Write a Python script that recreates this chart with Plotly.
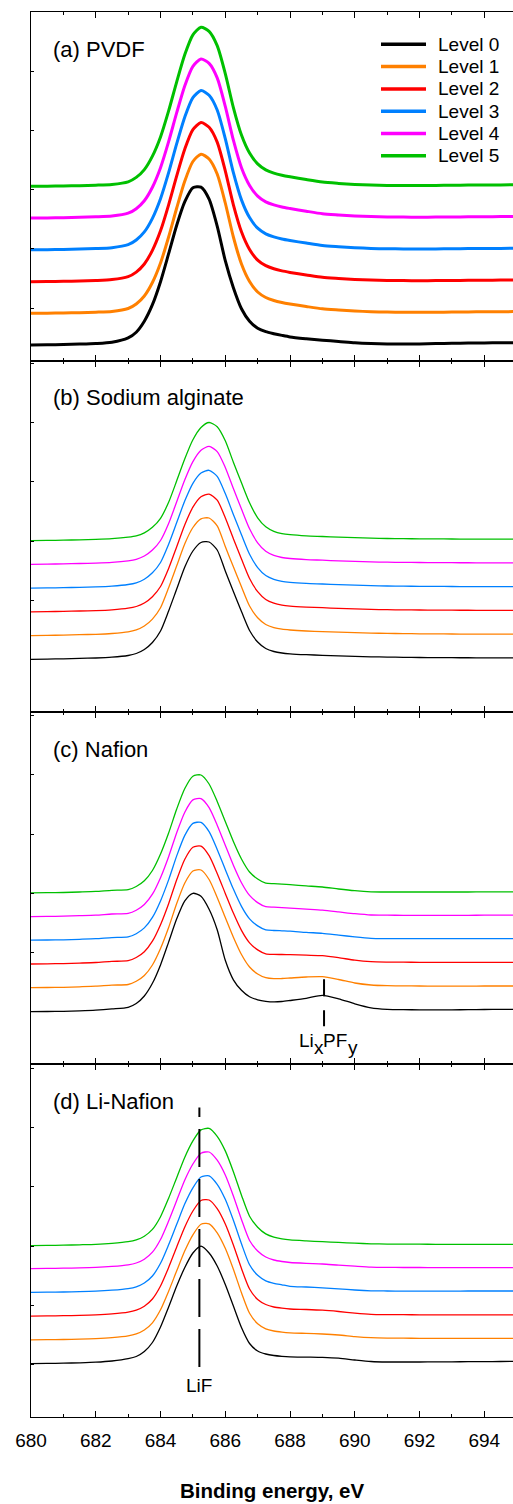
import plotly.graph_objects as go

# Binding-energy grid shared by every spectrum (eV): 0.25 eV steps across the F 1s peak
energy = [680, 680.5, 681, 681.5, 682, 682.5,
          683, 683.25, 683.5, 683.75, 684, 684.25, 684.5, 684.75, 685, 685.25, 685.5,
          685.75, 686, 686.25, 686.5, 686.75, 687, 687.25, 687.5, 687.75, 688,
          688.5, 689, 689.5, 690, 690.5, 691, 691.5, 692, 692.5, 693, 693.5, 694, 694.5, 695]

level_names = ["Level 0", "Level 1", "Level 2", "Level 3", "Level 4", "Level 5"]
level_colors = ["#000000", "#FF8000", "#FF0000", "#0080FF", "#FF00FF", "#00C000"]

# (a) PVDF, F 1s intensity (a.u.)
pvdf_l0 = [15.7, 15.9, 16.2, 16.6, 17.2, 18.5,
           22.8, 28.5, 39.5, 56.0, 79.0, 107.0, 135.5, 159.0, 173.0, 173.5, 161.5,
           134.5, 100.0, 73.0, 52.0, 39.5, 32.5, 29.0, 27.0, 25.3, 23.8,
           22.0, 20.5, 19.3, 18.0, 17.2, 16.7, 16.6, 16.8, 17.1, 17.4, 17.6, 17.8, 17.9, 18.0]
pvdf_l1 = [15.7, 15.8, 16.0, 16.3, 16.8, 17.6,
           20.5, 25.0, 33.0, 46.5, 66.0, 92.0, 121.0, 148.0, 167.5, 174.8, 170.0,
           155.0, 126.0, 92.0, 65.0, 47.5, 37.0, 31.5, 28.5, 26.5, 25.0,
           22.5, 20.2, 19.0, 18.0, 17.3, 16.9, 16.7, 16.7, 16.8, 16.9, 17.1, 17.2, 17.3, 17.4]
pvdf_l2 = [15.6, 15.8, 16.0, 16.3, 16.8, 17.7,
           20.6, 25.2, 33.3, 47.0, 66.5, 92.5, 121.5, 148.3, 167.6, 174.7, 170.0,
           155.2, 126.5, 92.5, 65.5, 47.8, 37.2, 31.6, 28.5, 26.4, 24.9,
           22.4, 20.0, 18.8, 17.8, 17.2, 16.8, 16.7, 16.6, 16.7, 16.8, 17.0, 17.1, 17.2, 17.3]
pvdf_l3 = [15.7, 15.8, 16.0, 16.4, 16.9, 17.8,
           20.8, 25.5, 33.6, 47.2, 66.8, 92.8, 121.8, 148.5, 167.8, 174.9, 170.2,
           155.5, 126.8, 92.8, 65.6, 47.9, 37.3, 31.7, 28.6, 26.5, 25.0,
           22.4, 20.0, 18.8, 17.8, 17.1, 16.7, 16.6, 16.5, 16.6, 16.7, 16.9, 17.0, 17.1, 17.2]
pvdf_l4 = [15.7, 15.8, 16.0, 16.4, 16.9, 17.7,
           20.5, 25.0, 33.0, 46.5, 66.0, 92.0, 121.0, 148.0, 167.4, 174.7, 170.3,
           155.8, 127.3, 93.5, 66.0, 48.3, 37.6, 31.9, 28.8, 26.7, 25.2,
           22.5, 20.0, 18.8, 17.8, 17.1, 16.7, 16.6, 16.5, 16.6, 16.7, 16.9, 17.0, 17.1, 17.2]
pvdf_l5 = [15.8, 15.9, 16.1, 16.4, 16.9, 17.7,
           20.3, 24.7, 32.5, 46.0, 65.2, 91.2, 120.3, 147.5, 167.2, 174.8, 170.8,
           156.5, 128.5, 94.5, 67.0, 49.0, 38.2, 32.2, 29.0, 26.9, 25.3,
           22.5, 20.0, 18.7, 17.7, 17.1, 16.7, 16.6, 16.6, 16.7, 16.8, 17.0, 17.1, 17.2, 17.3]
pvdf_offsets = [0, 31.7, 63.4, 95.2, 127.0, 158.6]

# (b) Sodium alginate
alg_l0 = [52.7, 52.9, 53.2, 53.6, 54.0, 54.8,
          56.5, 58.5, 62.5, 69.5, 81.0, 101.0, 123.0, 145.0, 161.0, 169.5, 170.0,
          162.0, 141.0, 120.5, 100.5, 81.5, 70.0, 63.5, 60.5, 59.0, 58.2,
          57.3, 56.7, 56.1, 55.6, 55.2, 54.9, 54.7, 54.5, 54.4, 54.3, 54.25, 54.2, 54.2, 54.2]
alg_l1 = [52.7, 52.9, 53.2, 53.6, 54.0, 54.8,
          56.4, 58.4, 62.3, 69.2, 80.5, 100.5, 122.5, 144.6, 160.8, 169.5, 170.3,
          162.5, 141.8, 121.5, 101.5, 82.3, 70.5, 63.8, 60.7, 59.1, 58.3,
          57.3, 56.7, 56.1, 55.6, 55.2, 54.9, 54.7, 54.5, 54.4, 54.3, 54.25, 54.2, 54.2, 54.2]
alg_l2 = [52.7, 52.9, 53.1, 53.5, 53.9, 54.7,
          56.3, 58.0, 61.5, 67.8, 78.0, 96.0, 117.8, 139.8, 157.3, 167.7, 170.4,
          164.3, 146.8, 125.8, 105.5, 86.0, 72.8, 65.0, 61.3, 59.4, 58.4,
          57.4, 56.8, 56.1, 55.6, 55.1, 54.8, 54.6, 54.5, 54.4, 54.3, 54.25, 54.2, 54.2, 54.2]
alg_l3 = [52.7, 52.9, 53.1, 53.5, 53.9, 54.7,
          56.3, 58.0, 61.6, 68.0, 78.3, 96.5, 118.2, 140.0, 157.5, 167.8, 170.5,
          164.5, 147.2, 126.3, 106.0, 86.5, 73.2, 65.3, 61.5, 59.5, 58.5,
          57.4, 56.8, 56.1, 55.6, 55.1, 54.8, 54.6, 54.5, 54.4, 54.3, 54.25, 54.2, 54.2, 54.2]
alg_l4 = [52.7, 52.9, 53.1, 53.5, 53.9, 54.6,
          56.2, 57.7, 61.0, 67.0, 76.5, 93.5, 115.2, 137.2, 155.4, 166.8, 170.6,
          165.4, 149.6, 128.4, 108.0, 88.2, 74.2, 65.7, 61.6, 59.5, 58.5,
          57.4, 56.8, 56.1, 55.6, 55.1, 54.8, 54.6, 54.5, 54.4, 54.3, 54.25, 54.2, 54.2, 54.2]
alg_l5 = [52.7, 52.9, 53.1, 53.5, 53.9, 54.6,
          56.1, 57.4, 60.5, 66.0, 75.0, 91.0, 112.5, 134.5, 153.5, 165.8, 170.8,
          166.5, 152.5, 131.0, 110.5, 90.5, 75.5, 66.5, 62.0, 59.7, 58.6,
          57.4, 56.8, 56.1, 55.6, 55.1, 54.8, 54.6, 54.5, 54.4, 54.3, 54.25, 54.2, 54.2, 54.2]
alg_offsets = [0, 23.7, 47.5, 71.2, 95.0, 118.7]

# (c) Nafion
naf_l0 = [52.6, 52.8, 53.0, 53.5, 54.2, 55.4,
          57.0, 60.8, 68.3, 81.0, 99.4, 122.2, 145.5, 163.5, 171.0, 168.0, 155.0,
          134.5, 104.0, 84.5, 74.0, 67.5, 64.5, 63.0, 62.4, 62.8, 63.8,
          66.0, 69.0, 65.5, 60.5, 56.5, 55.0, 54.6, 54.5, 54.5, 54.5, 54.6, 54.8, 54.9, 55.0]
naf_l1 = [52.8, 53.0, 53.2, 53.7, 54.3, 55.4,
          56.0, 59.2, 65.0, 75.5, 92.0, 113.0, 137.0, 157.5, 169.5, 170.5, 161.0,
          143.0, 123.0, 103.3, 86.0, 73.5, 66.5, 62.8, 61.8, 62.0, 62.5,
          63.5, 63.8, 61.0, 57.5, 55.5, 54.8, 54.6, 54.5, 54.4, 54.4, 54.4, 54.5, 54.5, 54.5]
naf_l2 = [52.7, 52.9, 53.1, 53.6, 54.2, 55.3,
          56.0, 59.2, 65.0, 75.5, 92.0, 113.0, 137.0, 157.5, 169.5, 170.5, 161.0,
          143.2, 123.3, 103.6, 86.3, 73.8, 66.8, 62.8, 62.3, 62.2, 62.0,
          61.5, 61.0, 59.0, 56.5, 55.0, 54.6, 54.5, 54.4, 54.3, 54.3, 54.3, 54.4, 54.4, 54.4]
naf_l3 = [52.7, 52.9, 53.1, 53.6, 54.2, 55.3,
          56.0, 59.2, 65.0, 75.5, 92.0, 113.0, 137.0, 157.5, 169.5, 170.5, 161.3,
          143.5, 123.5, 103.8, 86.5, 74.0, 67.0, 63.0, 62.4, 62.1, 61.8,
          60.5, 59.6, 57.8, 56.0, 54.6, 54.3, 54.2, 54.2, 54.2, 54.2, 54.2, 54.3, 54.3, 54.3]
naf_l4 = [52.6, 52.8, 53.0, 53.5, 54.1, 55.2,
          55.9, 59.0, 64.7, 75.0, 91.5, 112.5, 136.5, 157.0, 169.3, 170.5, 161.5,
          144.0, 124.0, 104.0, 86.5, 73.8, 66.6, 62.5, 62.0, 61.5, 61.0,
          60.0, 59.0, 57.3, 55.5, 54.2, 54.0, 53.9, 53.9, 53.9, 53.9, 53.9, 54.0, 54.0, 54.0]
naf_l5 = [52.6, 52.8, 53.0, 53.5, 54.1, 55.2,
          55.9, 59.0, 64.7, 75.0, 91.5, 112.5, 136.5, 157.0, 169.3, 170.5, 161.5,
          144.0, 124.0, 104.0, 86.5, 73.5, 66.5, 62.3, 61.8, 61.3, 60.8,
          59.6, 58.5, 56.5, 54.8, 53.7, 53.5, 53.5, 53.5, 53.5, 53.5, 53.5, 53.6, 53.6, 53.6]
naf_offsets = [0, 23.8, 47.6, 71.4, 95.1, 118.8]

# (d) Li-Nafion
linaf_l0 = [53.4, 53.6, 53.8, 54.2, 54.8, 56.0,
            58.3, 60.5, 65.5, 74.5, 90.0, 110.0, 131.0, 149.5, 164.0, 170.8, 164.0,
            151.0, 132.5, 111.0, 89.5, 73.5, 66.0, 63.0, 61.5, 60.7, 60.2,
            59.9, 59.6, 58.8, 57.0, 55.5, 55.0, 55.0, 55.0, 55.1, 55.2, 55.3, 55.4, 55.5, 55.6]
linaf_l1 = [53.4, 53.6, 53.8, 54.1, 54.6, 55.6,
            57.4, 59.4, 63.3, 70.5, 83.5, 102.0, 122.5, 142.5, 158.5, 169.0, 169.5,
            160.5, 145.0, 124.0, 100.5, 80.0, 69.5, 64.5, 62.3, 61.2, 60.5,
            59.9, 59.3, 58.3, 56.7, 55.6, 55.2, 55.1, 55.0, 55.0, 55.0, 55.0, 55.0, 55.0, 55.0]
linaf_l2 = [53.4, 53.6, 53.8, 54.1, 54.6, 55.6,
            57.4, 59.4, 63.3, 70.5, 83.5, 102.0, 122.5, 142.5, 158.5, 169.0, 169.5,
            160.8, 145.5, 124.5, 101.0, 80.5, 70.0, 65.0, 62.5, 61.3, 60.5,
            60.0, 59.3, 58.0, 56.4, 55.2, 54.9, 54.8, 54.7, 54.6, 54.6, 54.6, 54.6, 54.6, 54.6]
linaf_l3 = [53.4, 53.6, 53.8, 54.1, 54.6, 55.6,
            57.2, 59.0, 62.8, 69.8, 82.5, 101.0, 121.5, 142.0, 158.0, 168.8, 170.0,
            161.5, 146.5, 125.5, 102.0, 81.0, 70.5, 65.0, 62.5, 61.0, 59.5,
            58.8, 58.0, 57.0, 55.8, 55.0, 54.8, 54.7, 54.7, 54.7, 54.7, 54.8, 54.8, 54.8, 54.8]
linaf_l4 = [53.4, 53.6, 53.8, 54.1, 54.6, 55.6,
            57.2, 59.0, 62.8, 69.8, 82.5, 101.0, 121.5, 142.0, 158.0, 168.8, 170.0,
            161.8, 147.0, 126.0, 102.5, 81.5, 71.0, 65.0, 62.0, 60.5, 59.5,
            58.6, 58.0, 56.8, 55.8, 54.9, 54.6, 54.5, 54.5, 54.4, 54.4, 54.4, 54.4, 54.4, 54.4]
linaf_l5 = [53.1, 53.3, 53.5, 53.9, 54.4, 55.4,
            57.0, 58.8, 62.5, 69.3, 82.0, 100.5, 121.0, 141.5, 157.8, 168.8, 170.3,
            162.3, 147.8, 127.0, 103.5, 82.5, 71.5, 64.8, 61.5, 59.8, 58.8,
            57.8, 57.0, 56.3, 55.5, 54.9, 54.6, 54.5, 54.5, 54.4, 54.4, 54.4, 54.4, 54.4, 54.4]
linaf_offsets = [0, 23.7, 47.5, 71.2, 95.0, 118.3]

# Reference energies marked in panels (c) and (d)
lixpfy_energy = 689.05
lif_energy = 685.2

panels = [
    ("(a) PVDF", [pvdf_l0, pvdf_l1, pvdf_l2, pvdf_l3, pvdf_l4, pvdf_l5], pvdf_offsets, 3.0),
    ("(b) Sodium alginate", [alg_l0, alg_l1, alg_l2, alg_l3, alg_l4, alg_l5], alg_offsets, 1.3),
    ("(c) Nafion", [naf_l0, naf_l1, naf_l2, naf_l3, naf_l4, naf_l5], naf_offsets, 1.3),
    ("(d) Li-Nafion", [linaf_l0, linaf_l1, linaf_l2, linaf_l3, linaf_l4, linaf_l5], linaf_offsets, 1.3),
]

# ---- page geometry (pixels) ----
W, H = 513, 1504
ML, MR, MT, MB = 31, 0, 12, 87
plot_w = W - ML - MR
plot_h = H - MT - MB
panel_edges = [12, 360.7, 712, 1064.3, 1417]   # top/bottom pixel rows of the stacked panels
px_per_ev = 32.38
x_range = [680, 680 + plot_w / px_per_ev]
FONT = "Liberation Sans, Arial, sans-serif"


def paper_x(px):
    return (px - ML) / plot_w


def paper_y(py):
    return (H - MB - py) / plot_h


def ev_to_px(ev):
    return ML + (ev - x_range[0]) * px_per_ev


fig = go.Figure()
layout = dict(
    width=W, height=H,
    margin=dict(l=ML, r=MR, t=MT, b=MB),
    paper_bgcolor="white", plot_bgcolor="white",
    font=dict(family=FONT, size=19, color="black"),
    showlegend=False,
)

annotations = []
shapes = []

for i, (label, curves, offsets, lw) in enumerate(panels):
    n = i + 1
    top, bot = panel_edges[i], panel_edges[i + 1]
    xa, ya = f"x{n}", f"y{n}"
    for name, color, curve, off in zip(level_names, level_colors, curves, offsets):
        fig.add_trace(go.Scatter(
            x=energy, y=[v + off for v in curve], mode="lines", name=name,
            line=dict(color=color, width=lw, shape="spline", smoothing=0.7),
            xaxis=xa, yaxis=ya, hoverinfo="skip",
        ))
    layout[f"xaxis{n}"] = dict(
        domain=[0, 1], anchor=ya, range=x_range,
        showline=True, linecolor="black", linewidth=1, mirror="ticks",
        ticks="inside", ticklen=6, tickwidth=1, tickcolor="black",
        tick0=680, dtick=2,
        minor=dict(ticks="inside", ticklen=3, tickwidth=1, tickcolor="black", dtick=1),
        showgrid=False, zeroline=False,
        showticklabels=(n == 4), tickfont=dict(size=19, family=FONT),
        ticklabelstandoff=6,
    )
    layout[f"yaxis{n}"] = dict(
        domain=[paper_y(bot), paper_y(top)], anchor=xa, range=[0, bot - top],
        showline=True, linecolor="black", linewidth=1,
        ticks="inside", ticklen=3, tickwidth=1, tickcolor="black",
        tick0=52.6, dtick=59.2, showticklabels=False,
        showgrid=False, zeroline=False,
    )
    annotations.append(dict(
        text=label, xref="paper", yref="paper", x=paper_x(51), y=paper_y(top + 37),
        xanchor="left", yanchor="middle", showarrow=False,
        font=dict(size=22, family=FONT, color="black"),
    ))

# legend drawn in panel (a)
for k, (name, color) in enumerate(zip(level_names, level_colors)):
    row = 44.3 + 22.3 * k
    shapes.append(dict(type="line", xref="paper", yref="paper",
                       x0=paper_x(381), x1=paper_x(426), y0=paper_y(row), y1=paper_y(row),
                       line=dict(color=color, width=3.5)))
    annotations.append(dict(text=name, xref="paper", yref="paper",
                            x=paper_x(436), y=paper_y(row), xanchor="left", yanchor="middle",
                            showarrow=False, font=dict(size=19, family=FONT, color="black")))

# LixPFy marker in panel (c)
shapes.append(dict(type="line", xref="x3", yref="y3", x0=lixpfy_energy, x1=lixpfy_energy,
                   y0=85, y1=38, line=dict(color="black", width=2, dash="17px,14px")))
# label pieces: main text and full-size lowered subscripts
label_left = ev_to_px(lixpfy_energy) - 27
label_mid = 1040.5
pieces = [("Li", 0, 0), ("x", 14.8, 6.5), ("PF", 24.3, 0), ("y", 48.6, 6.5)]
for txt, dx, dy in pieces:
    annotations.append(dict(text=txt, xref="paper", yref="paper",
                            x=paper_x(label_left + dx), y=paper_y(label_mid + dy),
                            xanchor="left", yanchor="middle", showarrow=False,
                            font=dict(size=19, family=FONT, color="black")))

# LiF marker in panel (d)
shapes.append(dict(type="line", xref="x4", yref="y4", x0=lif_energy, x1=lif_energy,
                   y0=50, y1=309.5, line=dict(color="black", width=2, dash="38px,12px")))
annotations.append(dict(text="LiF", xref="x4", yref="y4", x=lif_energy, y=31.5,
                        xanchor="center", yanchor="middle", showarrow=False,
                        font=dict(size=19, family=FONT, color="black")))

# x-axis title
annotations.append(dict(text="<b>Binding energy, eV</b>", xref="paper", yref="paper",
                        x=0.5, y=paper_y(1490.5), xanchor="center", yanchor="middle",
                        showarrow=False, font=dict(size=20.5, family=FONT, color="black")))

layout["annotations"] = annotations
layout["shapes"] = shapes
fig.update_layout(**layout)

fig.write_html("out.html")
